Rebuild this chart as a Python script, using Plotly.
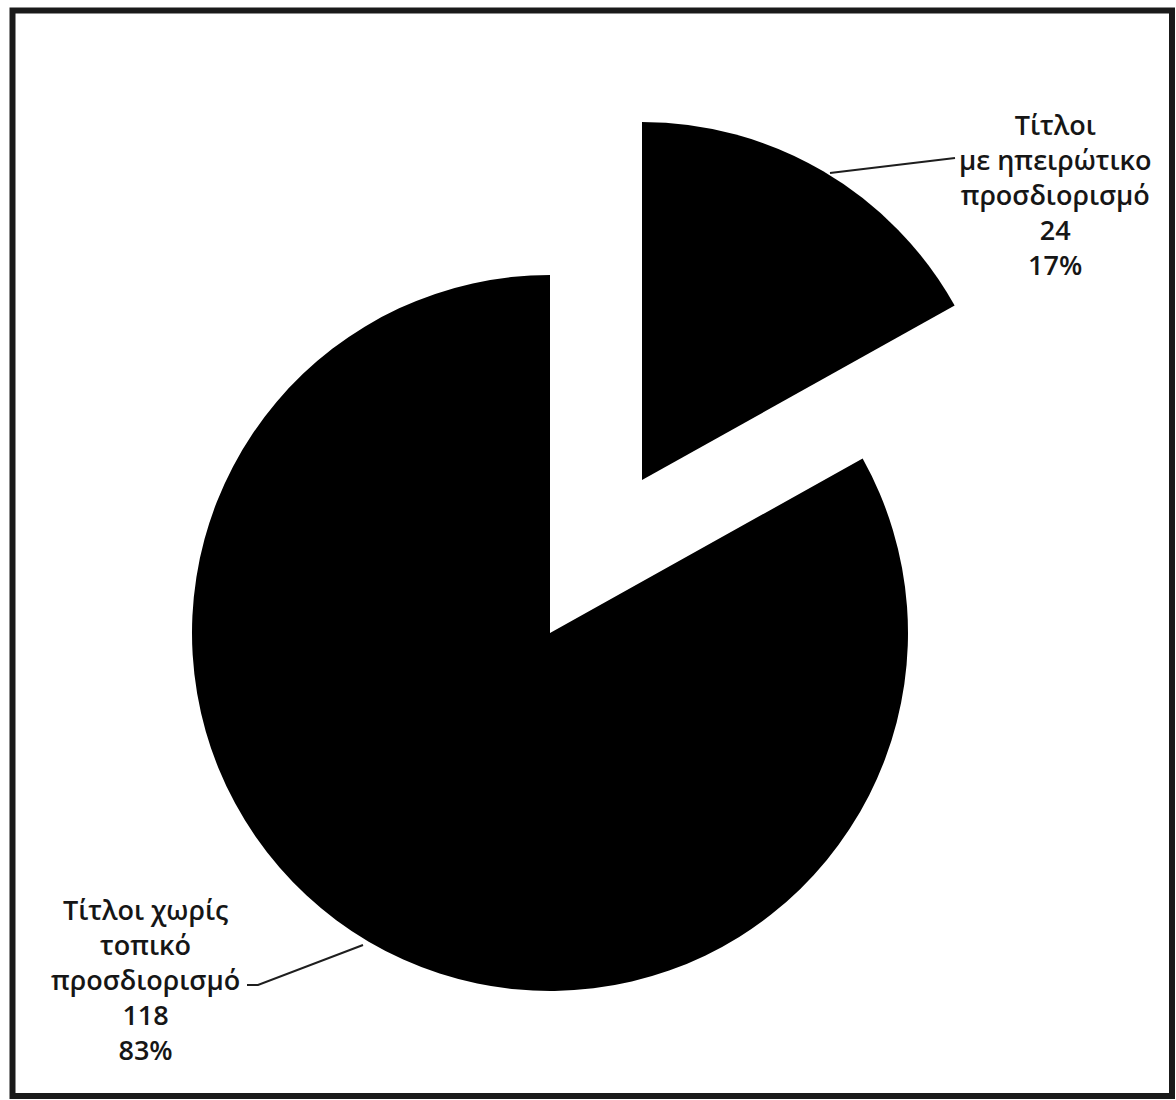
import plotly.graph_objects as go

# Headline counts by type of title
categories = ["Τίτλοι<br>με ηπειρώτικο<br>προσδιορισμό", "Τίτλοι χωρίς<br>τοπικό<br>προσδιορισμό"]
values = [24, 118]
slice_color = "#000000"
clear = "rgba(0,0,0,0)"

W, H = 1176, 1100
R = 358  # pie radius in px


def px_domain(cx, cy, r):
    return dict(x=[(cx - r) / W, (cx + r) / W], y=[1 - (cy + r) / H, 1 - (cy - r) / H])


total = sum(values)
pcts = [round(v * 100 / total) for v in values]

fig = go.Figure()
# Each slice is drawn by its own pie trace so the small one can sit apart from the rest
centers = [(642, 480), (550, 633)]
for i, (cx, cy) in enumerate(centers):
    colors = [clear] * len(values)
    colors[i] = slice_color
    fig.add_trace(go.Pie(
        labels=categories, values=values, sort=False, direction="clockwise", rotation=0,
        marker=dict(colors=colors, line=dict(width=0)),
        textinfo="none", hoverinfo="label+value+percent", showlegend=False,
        domain=px_domain(cx, cy, R),
    ))

font = dict(family="Open Sans, Noto Sans, sans-serif", size=27, color="#161616", weight=600)
label_pos = [(1055, 195), (145, 979)]
for (x, y), cat, v, p in zip(label_pos, categories, values, pcts):
    fig.add_annotation(x=x / W, y=1 - y / H, xref="paper", yref="paper",
                       text=f"{cat}<br>{v}<br>{p}%", showarrow=False, font=font,
                       align="center", xanchor="center", yanchor="middle")

# Leader lines from labels to slices
leaders = [
    [(830, 173), (955, 158)],
    [(363, 945), (258, 985), (247, 985)],
]
for pts in leaders:
    path = "M " + " L ".join(f"{x / W},{1 - y / H}" for x, y in pts)
    fig.add_shape(type="path", path=path, xref="paper", yref="paper",
                  line=dict(color="#1e1e1e", width=2))

# Frame around the chart
fig.add_shape(type="rect", xref="paper", yref="paper",
              x0=12.5 / W, x1=1172 / W, y0=1 - 1096 / H, y1=1 - 10.5 / H,
              line=dict(color="#1a1a1a", width=6))

fig.update_layout(width=W, height=H, margin=dict(l=0, r=0, t=0, b=0),
                  paper_bgcolor="white", plot_bgcolor="white")
fig.write_html("out.html")
